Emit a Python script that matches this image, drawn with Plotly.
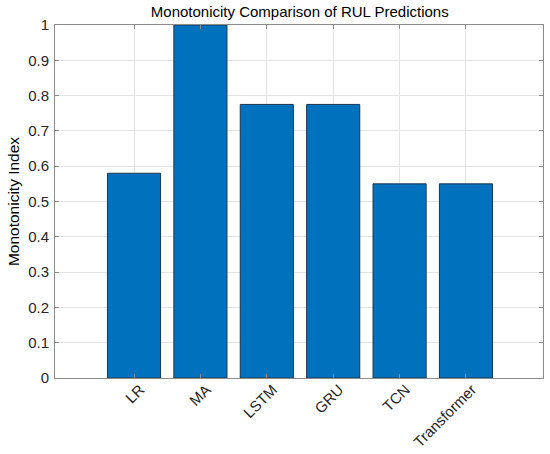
import plotly.graph_objects as go

categories = ["LR", "MA", "LSTM", "GRU", "TCN", "Transformer"]
values = [0.58, 1.0, 0.775, 0.775, 0.55, 0.55]
y_ticks = [0, 0.1, 0.2, 0.3, 0.4, 0.5, 0.6, 0.7, 0.8, 0.9, 1]
y_tick_labels = ["0", "0.1", "0.2", "0.3", "0.4", "0.5", "0.6", "0.7", "0.8", "0.9", "1"]

fig = go.Figure(
    go.Bar(
        x=categories,
        y=values,
        width=0.8,
        marker=dict(color="#0072BD", line=dict(color="#1a3550", width=1)),
    )
)

font_family = "Liberation Sans, Arial, sans-serif"
axis_common = dict(
    showline=True,
    linecolor="#8c8c8c",
    linewidth=1,
    mirror="ticks",
    ticks="inside",
    ticklen=4,
    tickcolor="#8c8c8c",
    showgrid=True,
    gridcolor="#e3e3e3",
    gridwidth=1,
    zeroline=False,
    automargin=False,
    tickfont=dict(family=font_family, size=15, color="#262626"),
)

fig.update_layout(
    width=550,
    height=454,
    plot_bgcolor="white",
    paper_bgcolor="white",
    margin=dict(l=55, r=7, t=25, b=76),
    showlegend=False,
    title=dict(
        text="Monotonicity Comparison of RUL Predictions",
        x=0.545,
        xanchor="center",
        y=0.975,
        yanchor="middle",
        automargin=False,
        font=dict(family=font_family, size=15, color="#000000"),
    ),
    xaxis=dict(
        **axis_common,
        type="category",
        range=[-1.19, 6.16],
        tickangle=-45,
        ticklabelshift=6,
        ticklabelstandoff=-4,
    ),
    yaxis=dict(
        **axis_common,
        range=[0, 1],
        tickvals=y_ticks,
        ticktext=y_tick_labels,
        ticklabelstandoff=2,
        title=dict(text="Monotonicity Index", font=dict(family=font_family, size=15.5, color="#000000"), standoff=4),
    ),
)

fig.write_html(
    "out.html",
    config={"displayModeBar": False},
    post_script="document.body.style.margin='0';document.body.style.overflow='hidden';",
)
